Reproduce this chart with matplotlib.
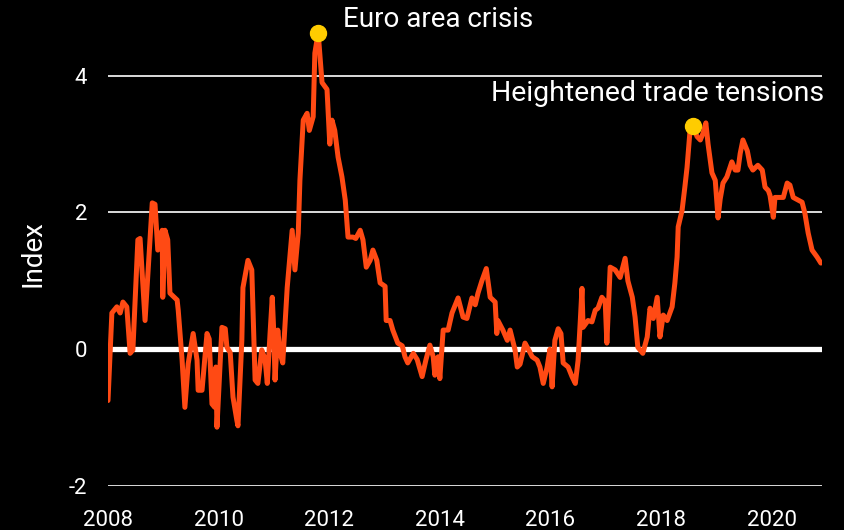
import matplotlib
matplotlib.use("Agg")
import matplotlib.pyplot as plt

years = [2008.00, 2008.07, 2008.16, 2008.22, 2008.27, 2008.34, 2008.40, 2008.45, 2008.54, 2008.58,
         2008.67, 2008.80, 2008.85, 2008.90, 2008.98, 2008.99, 2009.03, 2009.08, 2009.12, 2009.25,
         2009.27, 2009.34, 2009.39, 2009.45, 2009.54, 2009.61, 2009.63, 2009.70, 2009.79, 2009.83,
         2009.88, 2009.93, 2009.95, 2009.97, 2010.06, 2010.12, 2010.15, 2010.21, 2010.26, 2010.33,
         2010.35, 2010.42, 2010.44, 2010.53, 2010.60, 2010.66, 2010.71, 2010.78, 2010.84, 2010.88,
         2010.93, 2010.97, 2011.00, 2011.02, 2011.07, 2011.11, 2011.16, 2011.24, 2011.33, 2011.38,
         2011.44, 2011.47, 2011.53, 2011.60, 2011.64, 2011.71, 2011.74, 2011.80, 2011.87, 2011.96,
         2012.01, 2012.05, 2012.10, 2012.16, 2012.23, 2012.29, 2012.34, 2012.43, 2012.48, 2012.56,
         2012.61, 2012.67, 2012.74, 2012.79, 2012.86, 2012.92, 2013.01, 2013.03, 2013.10, 2013.15,
         2013.24, 2013.32, 2013.37, 2013.42, 2013.52, 2013.59, 2013.68, 2013.75, 2013.82, 2013.88,
         2013.91, 2013.97, 2014.00, 2014.06, 2014.15, 2014.22, 2014.33, 2014.42, 2014.49, 2014.58,
         2014.64, 2014.69, 2014.76, 2014.84, 2014.87, 2014.91, 2015.00, 2015.03, 2015.05, 2015.14,
         2015.22, 2015.27, 2015.36, 2015.40, 2015.45, 2015.54, 2015.60, 2015.67, 2015.76, 2015.81,
         2015.87, 2015.94, 2015.99, 2016.03, 2016.08, 2016.14, 2016.19, 2016.23, 2016.32, 2016.39,
         2016.45, 2016.50, 2016.54, 2016.57, 2016.59, 2016.68, 2016.75, 2016.81, 2016.86, 2016.93,
         2016.99, 2017.02, 2017.08, 2017.17, 2017.26, 2017.35, 2017.40, 2017.48, 2017.53, 2017.58,
         2017.67, 2017.75, 2017.80, 2017.86, 2017.93, 2017.98, 2018.04, 2018.11, 2018.20, 2018.25,
         2018.29, 2018.31, 2018.38, 2018.43, 2018.47, 2018.52, 2018.58, 2018.65, 2018.71, 2018.76,
         2018.81, 2018.85, 2018.92, 2018.98, 2019.03, 2019.07, 2019.12, 2019.19, 2019.28, 2019.34,
         2019.39, 2019.43, 2019.48, 2019.56, 2019.61, 2019.66, 2019.75, 2019.83, 2019.88, 2019.94,
         2019.97, 2020.03, 2020.06, 2020.12, 2020.21, 2020.28, 2020.33, 2020.39, 2020.48, 2020.55,
         2020.60, 2020.66, 2020.73, 2020.82, 2020.89]

index_values = [-0.75, 0.53, 0.62, 0.53, 0.69, 0.62, -0.06, -0.01, 1.60, 1.62,
                0.42, 2.14, 2.12, 1.45, 1.74, 0.76, 1.74, 1.60, 0.82, 0.72,
                0.57, -0.16, -0.85, -0.21, 0.23, -0.16, -0.60, -0.60, 0.23, 0.15,
                -0.80, -0.85, -0.26, -1.14, 0.32, 0.30, 0.03, -0.05, -0.70, -1.04,
                -1.12, 0.13, 0.90, 1.30, 1.16, -0.45, -0.50, -0.01, -0.15, -0.50,
                0.23, 0.76, 0.20, -0.45, 0.28, -0.05, -0.20, 0.90, 1.74, 1.16,
                1.70, 2.47, 3.35, 3.45, 3.20, 3.40, 4.33, 4.63, 3.90, 3.80,
                3.00, 3.35, 3.20, 2.81, 2.52, 2.18, 1.64, 1.64, 1.62, 1.74,
                1.60, 1.20, 1.30, 1.45, 1.30, 0.97, 0.92, 0.42, 0.42, 0.28,
                0.09, 0.05, -0.11, -0.20, -0.06, -0.15, -0.40, -0.15, 0.06, -0.11,
                -0.38, -0.11, -0.43, 0.28, 0.28, 0.53, 0.75, 0.47, 0.45, 0.75,
                0.65, 0.82, 1.00, 1.18, 1.00, 0.76, 0.69, 0.23, 0.42, 0.28,
                0.13, 0.28, -0.01, -0.26, -0.22, 0.09, 0.00, -0.11, -0.16, -0.26,
                -0.50, -0.26, 0.00, -0.55, 0.13, 0.30, 0.23, -0.20, -0.26, -0.40,
                -0.50, -0.16, 0.42, 0.89, 0.32, 0.42, 0.40, 0.57, 0.60, 0.76,
                0.70, 0.09, 1.20, 1.16, 1.05, 1.33, 1.00, 0.76, 0.47, 0.03,
                -0.06, 0.18, 0.60, 0.45, 0.76, 0.18, 0.50, 0.42, 0.62, 0.97,
                1.35, 1.79, 2.03, 2.37, 2.66, 3.16, 3.26, 3.11, 3.06, 3.16,
                3.31, 3.00, 2.58, 2.47, 1.92, 2.20, 2.43, 2.52, 2.74, 2.62,
                2.62, 2.86, 3.06, 2.90, 2.69, 2.62, 2.69, 2.62, 2.37, 2.32,
                2.25, 1.93, 2.22, 2.22, 2.22, 2.43, 2.40, 2.22, 2.18, 2.15,
                1.99, 1.70, 1.45, 1.35, 1.26]

event_labels = ["Euro area crisis", "Heightened trade tensions"]
event_years = [2011.80, 2018.58]
event_values = [4.63, 3.26]

y_ticks = [-2, 0, 2, 4]
y_tick_labels = ["-2", "0", "2", "4"]
x_ticks = [2008, 2010, 2012, 2014, 2016, 2018, 2020]
x_tick_labels = ["2008", "2010", "2012", "2014", "2016", "2018", "2020"]

plt.rcParams['font.family'] = ['Roboto', 'DejaVu Sans']

fig = plt.figure(figsize=(8.44, 5.30), dpi=100, facecolor='black')
ax = fig.add_axes([108/844, 1-486/530, (822-108)/844, (486-21)/530])
ax.set_facecolor('black')

for yt in y_ticks:
    if yt == 0:
        ax.axhline(yt, color='white', lw=3.8, zorder=1)
    else:
        ax.axhline(yt, color='white', lw=1.2, zorder=1)

ax.plot(years, index_values, color='#FF4A14', lw=3.6, solid_joinstyle='round',
        solid_capstyle='round', zorder=3)
ax.plot(event_years, event_values, 'o', color='#FFCC00', markersize=11.5, zorder=4,
        clip_on=False)

ax.text(event_years[0] + 0.45, 4.82, event_labels[0], color='white', fontsize=20,
        ha='left', va='center', clip_on=False)
ax.text(2020.94, 3.74, event_labels[1], color='white', fontsize=20.5,
        ha='right', va='center', clip_on=False)

ax.set_xlim(2008, 2020.91)
ax.set_ylim(-2, 4.8)
ax.set_xticks(x_ticks)
ax.set_xticklabels(x_tick_labels)
ax.set_yticks(y_ticks)
ax.set_yticklabels(y_tick_labels)
ax.tick_params(axis='both', length=0, colors='white', labelsize=16)
ax.tick_params(axis='x', pad=17)
ax.tick_params(axis='y', pad=15)
for s in ax.spines.values():
    s.set_visible(False)
ax.set_ylabel("Index", color='white', fontsize=20, labelpad=16)

fig.savefig("out.png", dpi=100, facecolor='black')
